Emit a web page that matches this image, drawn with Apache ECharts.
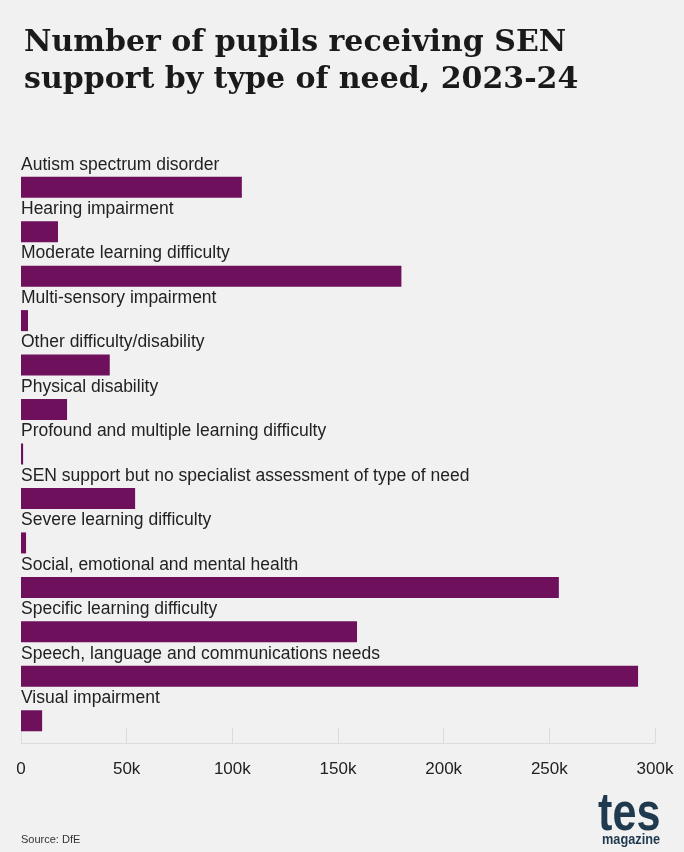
<!DOCTYPE html>
<html><head><meta charset="utf-8">
<script src="https://cdn.jsdelivr.net/npm/echarts@6/dist/echarts.min.js"></script>
<style>html,body{margin:0;padding:0;background:#f2f1f1}#c{width:684px;height:852px}</style>
</head><body><div id="c"></div>
<script>
const categories = ["Autism spectrum disorder","Hearing impairment","Moderate learning difficulty","Multi-sensory impairment","Other difficulty/disability","Physical disability","Profound and multiple learning difficulty","SEN support but no specialist assessment of type of need","Severe learning difficulty","Social, emotional and mental health","Specific learning difficulty","Speech, language and communications needs","Visual impairment"];
const values = [104500,17500,180000,3300,42000,21800,1000,54000,2400,254500,159000,292000,10000];
const xTicks = [0,50000,100000,150000,200000,250000,300000];
const chart = echarts.init(document.getElementById('c'));
chart.setOption({
  backgroundColor:'#f2f1f1',
  animation:false,
  title:{text:'Number of pupils receiving SEN\nsupport by type of need, 2023-24',left:19,top:20,
    textStyle:{fontFamily:'DejaVu Serif',fontWeight:'bold',fontSize:30,lineHeight:37,color:'#1a1a1a'}},
  grid:{left:21,right:29,top:165,bottom:852-743},
  xAxis:{type:'value',min:0,max:300000,interval:50000,
    axisLine:{show:true,lineStyle:{color:'#dcdcdc'}},
    axisTick:{show:true,inside:true,length:15,lineStyle:{color:'#dcdcdc'}},
    splitLine:{show:false},
    axisLabel:{margin:18,fontFamily:'Liberation Sans',fontSize:17,color:'#222',
      formatter:v=>v===0?'0':(v/1000)+'k'}},
  yAxis:{type:'category',data:categories,inverse:true,show:false},
  series:[{type:'bar',data:values,barWidth:21,itemStyle:{color:'#6e105c'},
    label:{show:true,position:[0,-3],verticalAlign:'bottom',align:'left',
      fontFamily:'Liberation Sans',fontSize:17.5,color:'#222',formatter:p=>p.name}}],
  graphic:[
    {type:'text',left:21,top:834,style:{text:'Source: DfE',font:'11px Liberation Sans',fill:'#333'}},
    {type:'text',x:598,y:788,scaleX:0.8,style:{text:'tes',font:'bold 54px "Liberation Sans Narrow", "Liberation Sans"',fill:'#1f3a4f'}},
    {type:'text',x:602,y:832,scaleX:0.85,style:{text:'magazine',font:'bold 15px "Liberation Sans Narrow", "Liberation Sans"',fill:'#1f3a4f'}}
  ]
});
</script></body></html>
